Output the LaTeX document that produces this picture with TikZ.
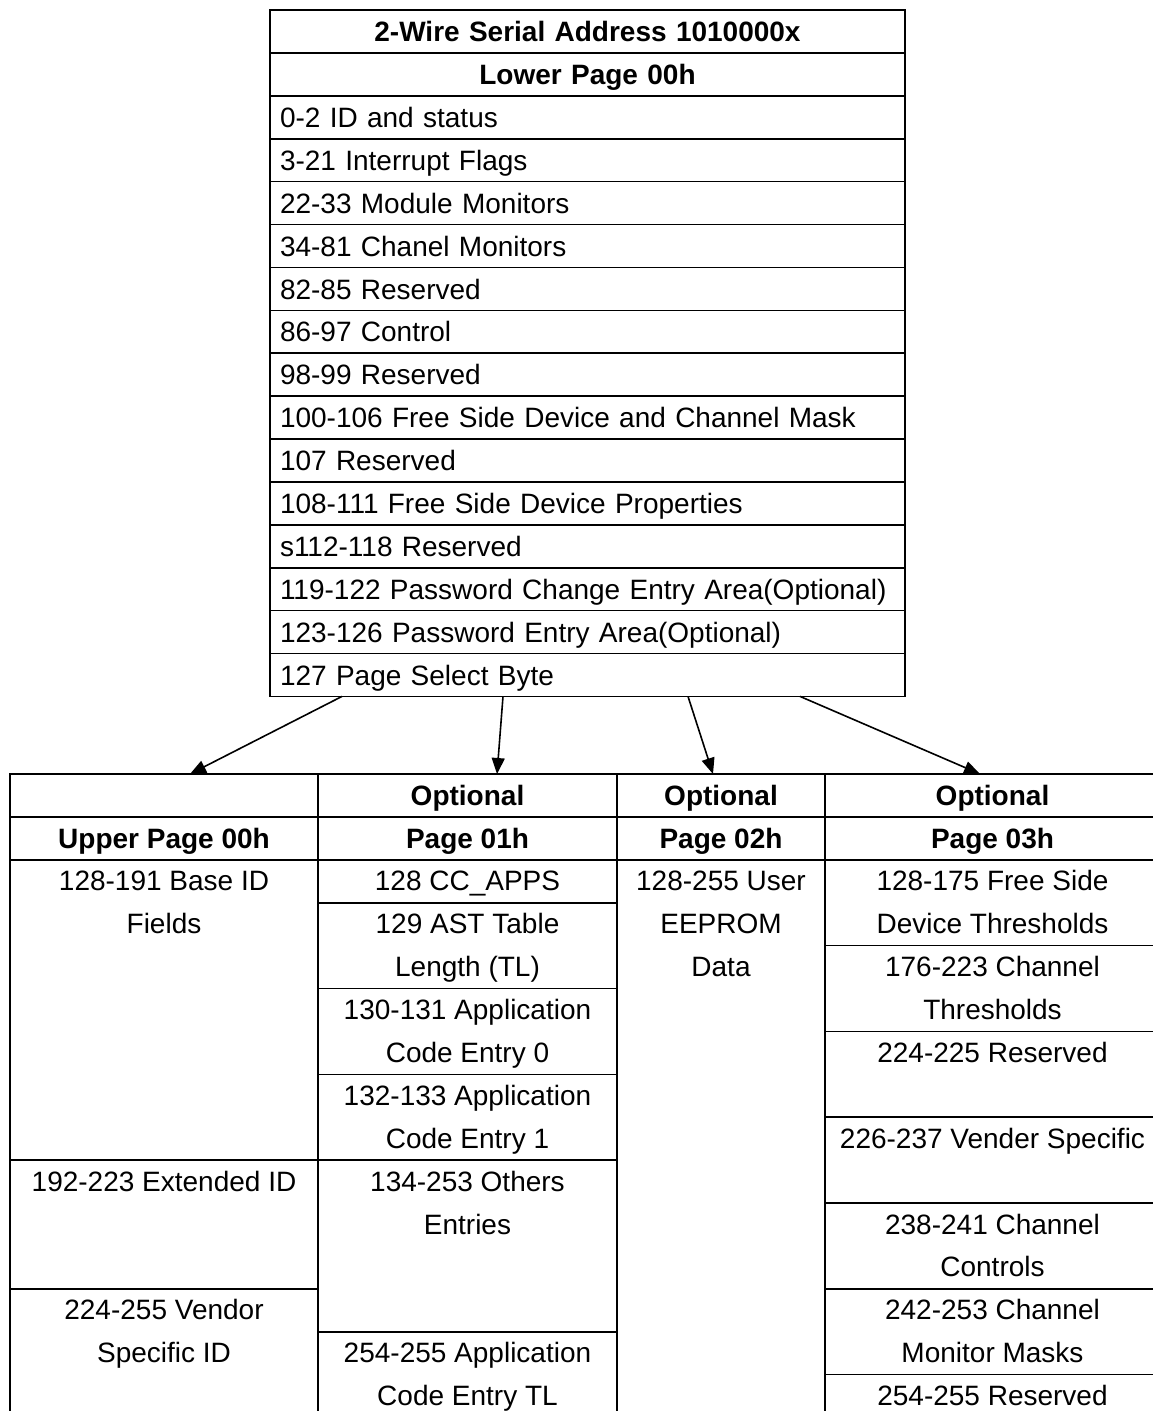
\documentclass[tikz,border=0pt]{standalone}
\usepackage{fontspec}
\setmainfont{Liberation Sans}
\usetikzlibrary{arrows.meta,positioning,calc}

\newlength{\rowh}
\setlength{\rowh}{42.9pt}
% cell text sits at the top, one line per row
\newcommand{\cellpar}[3]{\parbox[c][#2\rowh][t]{#1}{\centering\rule{0pt}{31pt}#3}}

\begin{document}
\begin{tikzpicture}[
  x=1pt, y=-1pt,
  tbl/.style={draw, line width=1.6pt, inner sep=0pt, outer sep=0pt,
              font=\fontsize{28}{42.9}\selectfont},
  row/.style={tbl, minimum width=635pt, minimum height=\rowh, text width=615pt,
              align=left, text height=20.3pt, text depth=0pt},
  head/.style={row, align=center, font=\fontsize{28}{42.9}\selectfont\bfseries},
  colhd/.style={tbl, minimum height=\rowh, text height=20.3pt, text depth=0pt,
                font=\fontsize{28}{42.9}\selectfont\bfseries},
  cell/.style={tbl},
  ar/.style={-{Triangle[length=16pt, width=13pt]}, line width=1.6pt}
]
  \useasboundingbox (0,0) rectangle (1152,1411);
  % lower page
  \node[head, anchor=north] (t1) at (587.5,10) {2-Wire Serial Address 1010000x};
  \node[head, below=0pt of t1] (t2) {Lower Page 00h};
  \foreach \txt [count=\i from 3, remember=\i as \j (initially 2)] in
    {0-2 ID and status, 3-21 Interrupt Flags, 22-33 Module Monitors,
     34-81 Chanel Monitors, 82-85 Reserved, 86-97 Control, 98-99 Reserved,
     100-106 Free Side Device and Channel Mask, 107 Reserved,
     108-111 Free Side Device Properties, s112-118 Reserved,
     119-122 Password Change Entry Area(Optional),
     123-126 Password Entry Area(Optional), 127 Page Select Byte}
    \node[row, below=0pt of t\j] (t\i) {\txt};

  % upper pages, header rows
  \node[colhd, minimum width=308pt, anchor=north west] (hA) at (10,774) {};
  \node[colhd, minimum width=299pt, right=0pt of hA] (hB) {Optional};
  \node[colhd, minimum width=208pt, right=0pt of hB] (hC) {Optional};
  \node[colhd, minimum width=335pt, right=0pt of hC] (hD) {Optional};
  \node[colhd, minimum width=308pt, below=0pt of hA] (pA) {Upper Page 00h};
  \node[colhd, minimum width=299pt, below=0pt of hB] (pB) {Page 01h};
  \node[colhd, minimum width=208pt, below=0pt of hC] (pC) {Page 02h};
  \node[colhd, minimum width=335pt, below=0pt of hD] (pD) {Page 03h};

  % upper page 00h
  \node[cell, below=0pt of pA] (a1) {\cellpar{308pt}{7}{128-191 Base ID\\Fields}};
  \node[cell, below=0pt of a1] (a2) {\cellpar{308pt}{3}{192-223 Extended ID}};
  \node[cell, below=0pt of a2] (a3) {\cellpar{308pt}{3}{224-255 Vendor\\Specific ID}};
  % page 01h
  \node[cell, below=0pt of pB] (b1) {\cellpar{299pt}{1}{128 CC\_APPS}};
  \node[cell, below=0pt of b1] (b2) {\cellpar{299pt}{2}{129 AST Table\\Length (TL)}};
  \node[cell, below=0pt of b2] (b3) {\cellpar{299pt}{2}{130-131 Application\\Code Entry 0}};
  \node[cell, below=0pt of b3] (b4) {\cellpar{299pt}{2}{132-133 Application\\Code Entry 1}};
  \node[cell, below=0pt of b4] (b5) {\cellpar{299pt}{4}{134-253 Others\\Entries}};
  \node[cell, below=0pt of b5] (b6) {\cellpar{299pt}{2}{254-255 Application\\Code Entry TL}};
  % page 02h
  \node[cell, below=0pt of pC] (c1) {\cellpar{208pt}{13}{128-255 User\\EEPROM\\Data}};
  % page 03h
  \node[cell, below=0pt of pD] (d1) {\cellpar{335pt}{2}{128-175 Free Side\\Device Thresholds}};
  \node[cell, below=0pt of d1] (d2) {\cellpar{335pt}{2}{176-223 Channel\\Thresholds}};
  \node[cell, below=0pt of d2] (d3) {\cellpar{335pt}{2}{224-225 Reserved}};
  \node[cell, below=0pt of d3] (d4) {\cellpar{335pt}{2}{226-237 Vender Specific}};
  \node[cell, below=0pt of d4] (d5) {\cellpar{335pt}{2}{238-241 Channel\\Controls}};
  \node[cell, below=0pt of d5] (d6) {\cellpar{335pt}{2}{242-253 Channel\\Monitor Masks}};
  \node[cell, below=0pt of d6] (d7) {\cellpar{335pt}{1}{254-255 Reserved}};

  \draw[ar] ([xshift=-245.5pt]t16.south) -- ([xshift=26pt]hA.north);
  \draw[ar] ([xshift=-84.5pt]t16.south) -- ([xshift=29.5pt]hB.north);
  \draw[ar] ([xshift=100.5pt]t16.south) -- ([xshift=-8pt]hC.north);
  \draw[ar] ([xshift=212.5pt]t16.south) -- ([xshift=-12.5pt]hD.north);
\end{tikzpicture}
\end{document}
